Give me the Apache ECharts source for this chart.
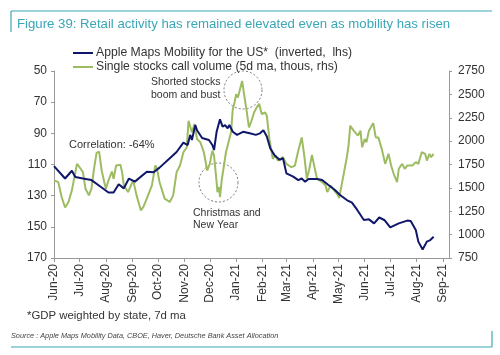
<!DOCTYPE html>
<html><head><meta charset="utf-8">
<script src="https://cdn.jsdelivr.net/npm/echarts@6/dist/echarts.min.js"></script>
<style>html,body{margin:0;padding:0;background:#fff}#c{width:500px;height:355px}</style>
</head><body><div id="c"></div>
<script>
const mobilityDates = ['2020-06-01','2020-06-14','2020-06-22','2020-06-26','2020-07-05','2020-07-15','2020-07-25','2020-08-04','2020-08-10','2020-08-16','2020-08-22','2020-08-28','2020-09-04','2020-09-18','2020-09-26','2020-10-03','2020-10-15','2020-10-23','2020-10-31','2020-11-05','2020-11-08','2020-11-10','2020-11-14','2020-11-16','2020-11-22','2020-11-30','2020-12-04','2020-12-06','2020-12-09','2020-12-13','2020-12-16','2020-12-19','2020-12-22','2020-12-24','2020-12-28','2021-01-02','2021-01-09','2021-01-17','2021-01-24','2021-01-29','2021-02-02','2021-02-06','2021-02-10','2021-02-15','2021-02-21','2021-02-25','2021-03-01','2021-03-09','2021-03-15','2021-03-19','2021-03-23','2021-03-27','2021-04-06','2021-04-12','2021-04-19','2021-04-27','2021-05-03','2021-05-11','2021-05-17','2021-05-23','2021-05-31','2021-06-06','2021-06-12','2021-06-18','2021-06-24','2021-07-01','2021-07-11','2021-07-21','2021-07-25','2021-07-31','2021-08-03','2021-08-08','2021-08-13','2021-08-17','2021-08-21'];
const mobilityValues = [111,119,114,118,119,120,124,128,128,122.7,125.3,119,121,114.6,115,112,106,102,96,97.5,91,94.3,84.7,88,93,94.3,97.5,100.7,89,81,85.7,84.7,86.8,84.7,89,91,89,90,91,90,88,92,99.6,104,107,106,115.7,117.8,120,119,121,119.3,119.3,120,123,126.4,129.6,132.8,134.5,139,145.6,145.2,147.8,144,145.6,150.3,147.8,146,146.3,152,159.5,164.5,159.5,158.5,156.4];

const callDates = ['2020-06-01','2020-06-06','2020-06-10','2020-06-14','2020-06-18','2020-06-22','2020-06-28','2020-07-01','2020-07-05','2020-07-08','2020-07-12','2020-07-15','2020-07-18','2020-07-21','2020-07-24','2020-07-27','2020-07-30','2020-08-01','2020-08-04','2020-08-08','2020-08-10','2020-08-13','2020-08-18','2020-08-20','2020-08-22','2020-08-27','2020-09-02','2020-09-06','2020-09-11','2020-09-14','2020-09-18','2020-09-24','2020-09-28','2020-09-30','2020-10-03','2020-10-09','2020-10-15','2020-10-19','2020-10-23','2020-10-27','2020-10-31','2020-11-04','2020-11-06','2020-11-08','2020-11-10','2020-11-13','2020-11-16','2020-11-20','2020-11-24','2020-11-28','2020-12-01','2020-12-04','2020-12-06','2020-12-09','2020-12-10','2020-12-12','2020-12-13','2020-12-15','2020-12-17','2020-12-20','2020-12-23','2020-12-26','2020-12-28','2020-12-30','2021-01-01','2021-01-03','2021-01-05','2021-01-08','2021-01-10','2021-01-13','2021-01-16','2021-01-19','2021-01-22','2021-01-25','2021-01-28','2021-01-31','2021-02-04','2021-02-06','2021-02-09','2021-02-13','2021-02-16','2021-02-19','2021-02-25','2021-03-01','2021-03-07','2021-03-11','2021-03-15','2021-03-19','2021-03-22','2021-03-25','2021-03-28','2021-03-31','2021-04-03','2021-04-06','2021-04-12','2021-04-16','2021-04-18','2021-04-22','2021-04-26','2021-04-30','2021-05-02','2021-05-07','2021-05-11','2021-05-13','2021-05-15','2021-05-19','2021-05-21','2021-05-24','2021-05-27','2021-05-29','2021-06-01','2021-06-03','2021-06-06','2021-06-08','2021-06-11','2021-06-14','2021-06-17','2021-06-21','2021-06-25','2021-06-29','2021-07-02','2021-07-05','2021-07-09','2021-07-11','2021-07-15','2021-07-18','2021-07-21','2021-07-27','2021-07-31','2021-08-03','2021-08-07','2021-08-11','2021-08-13','2021-08-16','2021-08-18','2021-08-21'];
const callValues = [1580,1562,1402,1290,1349,1473,1757,1721,1668,1491,1420,1491,1704,1874,1888,1686,1562,1491,1580,1675,1598,1739,1747,1668,1526,1455,1580,1420,1260,1296,1385,1526,1739,1704,1560,1385,1349,1420,1668,1739,1881,1934,2218,2236,2094,2183,2023,1987,1881,1686,1757,1899,1846,1562,1455,1508,1402,1580,1562,1881,1987,2094,2342,2413,2502,2466,2537,2644,2519,2342,2147,2218,2306,2360,2400,2290,2306,2271,2023,1810,1846,1792,1828,1757,1721,1739,1899,2040,1846,1598,1704,1853,1721,1598,1562,1526,1455,1526,1473,1430,1390,1633,1828,1952,2165,2112,2130,2059,2112,1934,2023,1987,2112,2130,2193,2040,2040,1917,1757,1864,1739,1651,1562,1704,1757,1704,1739,1739,1775,1757,1881,1864,1792,1864,1828,1864];

const monthTicks = ['2020-06-01','2020-07-01','2020-08-01','2020-09-01','2020-10-01','2020-11-01','2020-12-01','2021-01-01','2021-02-01','2021-03-01','2021-04-01','2021-05-01','2021-06-01','2021-07-01','2021-08-01','2021-09-01'];
const monthNames = ['Jan','Feb','Mar','Apr','May','Jun','Jul','Aug','Sep','Oct','Nov','Dec'];
const xStart = '2020-06-01', xEnd = '2021-09-08';

const seriesNames = ['Apple Maps Mobility for the US*  (inverted,  lhs)', 'Single stocks call volume (5d ma, thous, rhs)'];

function toLocal(s){ const p = s.split('-').map(Number); return new Date(p[0], p[1]-1, p[2]).getTime(); }
const tickVals = monthTicks.map(toLocal);

const chart = echarts.init(document.getElementById('c'), null, {renderer:'canvas'});
const FONT = 'Liberation Sans, Arial, sans-serif';
const TEAL = '#3aa6b8';
const BLUE = '#0f176a';
const GREEN = '#9dbc62';

chart.setOption({
  animation: false,
  backgroundColor: '#fff',
  textStyle: {fontFamily: FONT},
  legend: {
    orient: 'vertical', left: 68, top: 42, itemWidth: 20, itemHeight: 2, itemGap: 2,
    icon: 'rect',
    textStyle: {fontSize: 12.2, color: '#333', fontFamily: FONT, padding: [0,0,0,-2]},
    data: seriesNames
  },
  grid: {left: 54, right: 51, top: 71, bottom: 97},
  xAxis: {
    type: 'value', min: toLocal(xStart), max: toLocal(xEnd),
    axisLine: {lineStyle: {color: '#999'}},
    axisTick: {show: true, length: 4, lineStyle: {color: '#999'}, customValues: tickVals},
    splitLine: {show: false},
    axisLabel: {
      customValues: tickVals, rotate: 90, fontSize: 12, color: '#333', margin: 6, fontFamily: FONT,
      formatter: function(v){ const d = new Date(v); return monthNames[d.getMonth()] + '-' + String(d.getFullYear()).slice(2); }
    }
  },
  yAxis: [{
    type: 'value', inverse: true, min: 50, max: 170, interval: 20, position: 'left',
    axisLine: {show: true, lineStyle: {color: '#999'}},
    axisTick: {show: true, length: 3, lineStyle: {color: '#999'}},
    splitLine: {show: false},
    axisLabel: {fontSize: 12, color: '#333', margin: 7, fontFamily: FONT}
  }, {
    type: 'value', min: 750, max: 2750, interval: 250, position: 'right',
    axisLine: {show: true, lineStyle: {color: '#999'}},
    axisTick: {show: true, length: 3, lineStyle: {color: '#999'}},
    splitLine: {show: false},
    axisLabel: {fontSize: 12, color: '#333', margin: 9, fontFamily: FONT, formatter: v => String(v)}
  }],
  series: [{
    name: seriesNames[0], type: 'line', yAxisIndex: 0, showSymbol: false, smooth: false,
    lineStyle: {color: BLUE, width: 2}, itemStyle: {color: BLUE}, z: 3,
    data: mobilityDates.map((d, i) => [toLocal(d), mobilityValues[i]])
  }, {
    name: seriesNames[1], type: 'line', yAxisIndex: 1, showSymbol: false, smooth: false,
    lineStyle: {color: GREEN, width: 2}, itemStyle: {color: GREEN}, z: 2,
    data: callDates.map((d, i) => [toLocal(d), callValues[i]])
  }],
  graphic: [
    {type: 'line', shape: {x1: 11, y1: 11, x2: 492, y2: 11}, style: {stroke: TEAL, lineWidth: 1.2}},
    {type: 'line', shape: {x1: 11, y1: 11, x2: 11, y2: 32}, style: {stroke: TEAL, lineWidth: 1.2}},
    {type: 'text', x: 17, y: 24, style: {text: 'Figure 39: Retail activity has remained elevated even as mobility has risen', fill: TEAL, font: '13.2px ' + FONT, verticalAlign: 'middle'}},
    {type: 'text', x: 69, y: 145, style: {text: 'Correlation: -64%', fill: '#333', font: '11px ' + FONT, verticalAlign: 'middle'}},
    {type: 'text', x: 151, y: 82, style: {text: 'Shorted stocks', fill: '#333', font: '10.5px ' + FONT, verticalAlign: 'middle'}},
    {type: 'text', x: 151, y: 95, style: {text: 'boom and bust', fill: '#333', font: '10.5px ' + FONT, verticalAlign: 'middle'}},
    {type: 'text', x: 193, y: 213, style: {text: 'Christmas and', fill: '#333', font: '10.5px ' + FONT, verticalAlign: 'middle'}},
    {type: 'text', x: 193, y: 225, style: {text: 'New Year', fill: '#333', font: '10.5px ' + FONT, verticalAlign: 'middle'}},
    {type: 'circle', shape: {cx: 243, cy: 90, r: 19}, style: {fill: 'none', stroke: '#777', lineWidth: 1, lineDash: [2, 2]}},
    {type: 'circle', shape: {cx: 218.5, cy: 182.5, r: 19.5}, style: {fill: 'none', stroke: '#777', lineWidth: 1, lineDash: [2, 2]}},
    {type: 'text', x: 27, y: 316, style: {text: '*GDP weighted by state, 7d ma', fill: '#333', font: '11.4px ' + FONT, verticalAlign: 'middle'}},
    {type: 'text', x: 11, y: 336, style: {text: 'Source : Apple Maps Mobility Data, CBOE, Haver, Deutsche Bank Asset Allocation', fill: '#444', font: 'italic 7.3px ' + FONT, verticalAlign: 'middle'}},
    {type: 'line', shape: {x1: 11, y1: 347, x2: 492, y2: 347}, style: {stroke: TEAL, lineWidth: 1.2}},
    {type: 'line', shape: {x1: 492, y1: 331, x2: 492, y2: 347}, style: {stroke: TEAL, lineWidth: 1.2}}
  ]
});
</script>
</body></html>
